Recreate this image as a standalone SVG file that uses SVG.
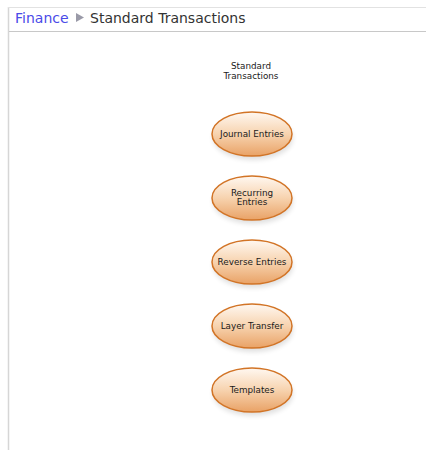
<svg xmlns="http://www.w3.org/2000/svg" width="426" height="450" viewBox="0 0 426 450">
<style>
.crumb{font-family:"DejaVu Sans","Liberation Sans",sans-serif;font-size:14px}
.lbl{font-family:"DejaVu Sans","Liberation Sans",sans-serif;font-size:8.8px;fill:#1a1a1a;text-anchor:middle}
.node ellipse.body{fill:url(#g);stroke:#d27426;stroke-width:1.5}
.node ellipse.sh{fill:#000;opacity:0.12;filter:url(#blur)}
</style>
<defs>
<linearGradient id="g" x1="0" y1="0" x2="0" y2="1">
<stop offset="0" stop-color="#fff8f1"/>
<stop offset="0.5" stop-color="#f7d3af"/>
<stop offset="1" stop-color="#e9a266"/>
</linearGradient>
<filter id="blur" x="-30%" y="-30%" width="160%" height="160%"><feGaussianBlur stdDeviation="2.5"/></filter>
</defs>
<rect width="426" height="450" fill="#fff"/>
<line x1="8.5" y1="7" x2="8.5" y2="450" stroke="#d6d6d6" stroke-width="1.5"/>
<line x1="8" y1="7.5" x2="426" y2="7.5" stroke="#e2e2e2" stroke-width="1"/>
<line x1="9" y1="31.5" x2="426" y2="31.5" stroke="#c8c8c8" stroke-width="1"/>
<text class="crumb" x="15" y="23" fill="#4a4ae8">Finance</text>
<polygon points="76,13 84,17.5 76,22" fill="#9a9aa8"/>
<text class="crumb" x="90" y="23" fill="#333">Standard Transactions</text>
<g id="title">
<text class="lbl" x="251" y="69">Standard</text>
<text class="lbl" x="251" y="79">Transactions</text>
</g>
<g id="connectors"></g>
<g id="n1" class="node">
<ellipse class="sh" cx="253" cy="138" rx="40" ry="22"/>
<ellipse class="body" cx="252" cy="134" rx="40" ry="22"/>
<text class="lbl" x="252" y="137">Journal Entries</text>
</g>
<g id="n2" class="node">
<ellipse class="sh" cx="253" cy="202" rx="40" ry="22"/>
<ellipse class="body" cx="252" cy="198" rx="40" ry="22"/>
<text class="lbl" x="252" y="196">Recurring</text>
<text class="lbl" x="252" y="205">Entries</text>
</g>
<g id="n3" class="node">
<ellipse class="sh" cx="253" cy="266" rx="40" ry="22"/>
<ellipse class="body" cx="252" cy="262" rx="40" ry="22"/>
<text class="lbl" x="252" y="265">Reverse Entries</text>
</g>
<g id="n4" class="node">
<ellipse class="sh" cx="253" cy="330" rx="40" ry="22"/>
<ellipse class="body" cx="252" cy="326" rx="40" ry="22"/>
<text class="lbl" x="252" y="329">Layer Transfer</text>
</g>
<g id="n5" class="node">
<ellipse class="sh" cx="253" cy="394" rx="40" ry="22"/>
<ellipse class="body" cx="252" cy="390" rx="40" ry="22"/>
<text class="lbl" x="252" y="393">Templates</text>
</g>
</svg>
